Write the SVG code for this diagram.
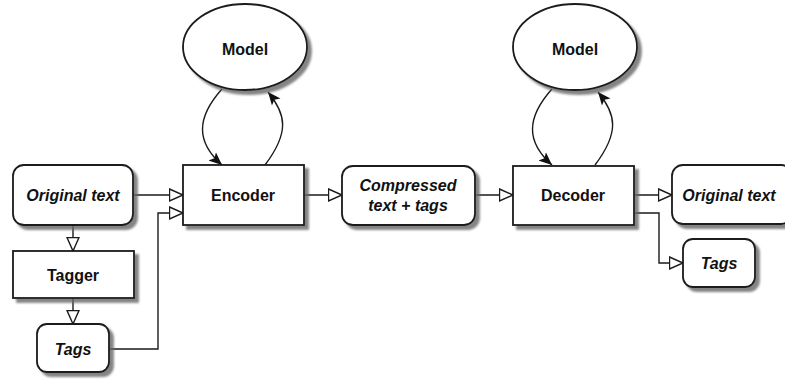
<svg xmlns="http://www.w3.org/2000/svg" width="785" height="379" viewBox="0 0 785 379">
<style>
.box{fill:#fff;stroke:#1a1a1a;stroke-width:1.8;filter:url(#sh)}
.lbl{font-family:"Liberation Sans",Arial,sans-serif;font-size:16px;font-weight:bold;fill:#111;text-anchor:middle;dominant-baseline:central}
.it{font-style:italic}
.edge{fill:none;stroke:#1a1a1a;stroke-width:1.4}
.h{marker-end:url(#hollow)}
.f{marker-end:url(#filled)}
</style>
<defs>
<filter id="sh" x="-10%" y="-10%" width="130%" height="140%">
<feDropShadow dx="4" dy="4" stdDeviation="1.3" flood-color="#666" flood-opacity="0.8"/>
</filter>
<marker id="hollow" viewBox="0 0 16 14" refX="14.5" refY="7" markerWidth="16" markerHeight="14" markerUnits="userSpaceOnUse" orient="auto">
<path d="M1,1 L14.5,7 L1,13 Z" fill="#fff" stroke="#1a1a1a" stroke-width="1.4"/>
</marker>
<marker id="filled" viewBox="0 0 14 12" refX="13" refY="6" markerWidth="14" markerHeight="12" markerUnits="userSpaceOnUse" orient="auto">
<path d="M0,0.5 L13,6 L0,11.5 L3,6 Z" fill="#111"/>
</marker>
</defs>

<g id="connectors">
<path class="edge h" d="M133,195 L183,195"/>
<path class="edge h" d="M109,349 L158,349 L158,213 L183,213"/>
<path class="edge h" d="M73,225 L73,251"/>
<path class="edge h" d="M73,298 L73,324"/>
<path class="edge h" d="M304,195 L342,195"/>
<path class="edge h" d="M475,195 L513,195"/>
<path class="edge h" d="M634,195 L672,195"/>
<path class="edge h" d="M634,213 L659,213 L659,263 L683,263"/>
<path class="edge f" d="M222,89 C196,118 196,142 222,165"/>
<path class="edge f" d="M265,165 C290,132 286,114 268,92"/>
<path class="edge f" d="M552,89 C526,118 526,142 552,165"/>
<path class="edge f" d="M595,165 C620,132 616,114 598,92"/>
</g>

<g id="model1">
<ellipse class="box" cx="245" cy="47" rx="62" ry="43"/>
<text class="lbl" x="245" y="49">Model</text>
</g>
<g id="model2">
<ellipse class="box" cx="575" cy="47" rx="62" ry="43"/>
<text class="lbl" x="575" y="49">Model</text>
</g>
<g id="original1">
<rect class="box" x="13" y="165" width="120" height="60" rx="11"/>
<text class="lbl it" x="73" y="195">Original text</text>
</g>
<g id="tagger">
<rect class="box" x="13" y="251" width="121" height="47"/>
<text class="lbl" x="73" y="275">Tagger</text>
</g>
<g id="tags1">
<rect class="box" x="37" y="324" width="72" height="48" rx="10"/>
<text class="lbl it" x="73" y="349">Tags</text>
</g>
<g id="encoder">
<rect class="box" x="183" y="165" width="121" height="60"/>
<text class="lbl" x="243" y="195">Encoder</text>
</g>
<g id="compressed">
<rect class="box" x="342" y="166" width="133" height="59" rx="11"/>
<text class="lbl it" x="408" y="185">Compressed</text>
<text class="lbl it" x="408" y="205">text + tags</text>
</g>
<g id="decoder">
<rect class="box" x="513" y="166" width="121" height="59"/>
<text class="lbl" x="573" y="195">Decoder</text>
</g>
<g id="original2">
<rect class="box" x="672" y="165" width="120" height="59" rx="11"/>
<text class="lbl it" x="729" y="195">Original text</text>
</g>
<g id="tags2">
<rect class="box" x="683" y="239" width="72" height="48" rx="10"/>
<text class="lbl it" x="719" y="263">Tags</text>
</g>
</svg>
